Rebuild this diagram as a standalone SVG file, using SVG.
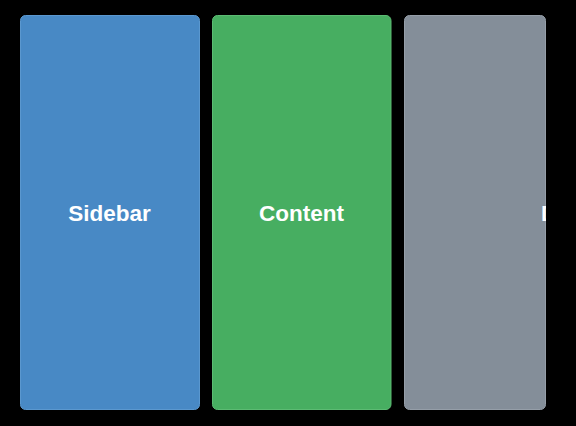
<svg xmlns="http://www.w3.org/2000/svg" width="576" height="426" viewBox="0 0 576 426">
  <style>
    .pane { stroke-width: 1; }
    .label { font-family: "Liberation Sans", Arial, sans-serif; font-size: 22.5px; font-weight: bold; fill: #ffffff; text-anchor: middle; }
  </style>
  <defs>
    <clipPath id="detailClip">
      <rect x="404" y="15" width="142" height="395" rx="5" ry="5"/>
    </clipPath>
  </defs>
  <rect x="0" y="0" width="576" height="426" fill="#000000"/>

  <g id="sidebar">
    <rect class="pane" x="20.5" y="15.5" width="179" height="394" rx="5" ry="5" fill="#4889c5" stroke="#5b98cf"/>
    <text class="label" x="109.5" y="221">Sidebar</text>
  </g>

  <g id="content">
    <rect class="pane" x="212.5" y="15.5" width="178.5" height="394" rx="5" ry="5" fill="#47ae61" stroke="#5cbb73"/>
    <text class="label" x="301.5" y="221">Content</text>
  </g>

  <g id="detail">
    <rect class="pane" x="404.5" y="15.5" width="141" height="394" rx="5" ry="5" fill="#848e99" stroke="#959ea8"/>
    <!-- pane is scrolled: its title runs past the right edge and is clipped -->
    <g clip-path="url(#detailClip)">
      <text class="label" x="541" y="221" style="text-anchor:start">D</text>
    </g>
  </g>

  <g id="connectors"/>
</svg>
